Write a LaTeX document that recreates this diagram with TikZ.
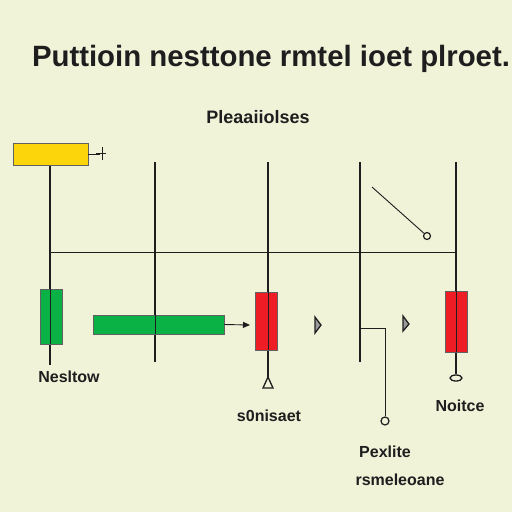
\documentclass[tikz,border=0pt]{standalone}
\usepackage{fontspec}
\setmainfont{Liberation Sans}
\usetikzlibrary{arrows.meta}
\definecolor{bg}{RGB}{240,243,216}
\definecolor{yel}{RGB}{252,214,10}
\definecolor{grn}{RGB}{10,178,70}
\definecolor{rd}{RGB}{238,28,36}
\definecolor{ink}{RGB}{30,30,30}
\begin{document}
\begin{tikzpicture}[x=1pt,y=-1pt,
  wire/.style={draw=ink,line width=1.3pt},
  thin/.style={draw=ink,line width=0.9pt},
  lbl/.style={font=\bfseries\fontsize{16}{16}\selectfont,text=ink,inner sep=0pt},
  bar/.style={draw=ink!70,line width=0.8pt}]
\fill[bg] (0,0) rectangle (512,512);
\useasboundingbox (0,0) rectangle (512,512);
% title
\node[font=\bfseries\fontsize{30}{30}\selectfont,text=ink,inner sep=0pt,anchor=base] (title) at (271,66) {\resizebox{478pt}{!}{Puttioin nesttone rmtel ioet plroet.}};
\node[lbl,font=\bfseries\fontsize{18}{18}\selectfont] (top) at (258,117) {Pleaaiiolses};
% coordinates
\coordinate (a1) at (50,165); \coordinate (a2) at (50,365);
\coordinate (b1) at (155,162); \coordinate (b2) at (155,362);
\coordinate (c1) at (268,162); \coordinate (c2) at (268,378);
\coordinate (d1) at (360,162); \coordinate (d2) at (360,362);
\coordinate (e1) at (456,162); \coordinate (e2) at (456,374);
\coordinate (h1) at (50,252); \coordinate (h2) at (456,252);
% verticals
\draw[wire] (b1) -- (b2);
\draw[wire] (c1) -- (c2);
\draw[wire] (d1) -- (d2);
\draw[wire] (e1) -- (e2);
\draw[wire] (a1) -- (a2);
\draw[thin] (h1) -- (h2);
% yellow box
\node[bar,fill=yel,minimum width=75pt,minimum height=22pt,inner sep=0pt] (ybox) at (50.5,154) {};
\coordinate (yend) at (100,154);
\draw[thin] (ybox.east) -- (yend);
\draw[thin] (102,147) -- (102,160) (96,153) -- (106,153);
% diagonal switch
\coordinate (s1) at (372,187);
\node[draw=ink,circle,line width=1.2pt,minimum size=7pt,inner sep=0pt] (sw) at (427,236) {};
\draw[thin] (s1) -- (sw);
% green boxes
\node[bar,fill=grn,minimum width=22pt,minimum height=55pt,inner sep=0pt] (g1) at (51,316.5) {};
\draw[thin] (50,289) -- (50,344);
\node[bar,fill=grn,minimum width=131pt,minimum height=19pt,inner sep=0pt] (g2) at (158.5,324.5) {};
\draw[thin] (155,315) -- (155,334);
\coordinate (g2e) at (250,325);
\draw[thin,-{Triangle[length=7pt,width=6pt]}] (g2.east) -- (g2e);
% red boxes
\node[bar,fill=rd,minimum width=22pt,minimum height=58pt,inner sep=0pt] (r1) at (266,321) {};
\draw[thin] (268,292) -- (268,350);
\node[bar,fill=rd,minimum width=22pt,minimum height=61pt,inner sep=0pt] (r2) at (456,321.5) {};
\draw[thin] (456,291) -- (456,352);
% triangle at bottom of c
\draw[wire,fill=bg] (268,377) -- (263,388) -- (273,388) -- cycle;
% ellipse at bottom of e
\draw[wire,fill=bg] (456,378) ellipse (6pt and 3pt);
% small right triangles
\draw[wire,fill=ink!45] (315,317) -- (321,325) -- (315,333) -- cycle;
\draw[wire,fill=ink!45] (403,316) -- (409,324) -- (403,331) -- cycle;
% branch from d
\coordinate (k1) at (360,328); \coordinate (k2) at (385,328);
\node[draw=ink,circle,line width=1.2pt,minimum size=8pt,inner sep=0pt] (kc) at (385,421) {};
\draw[thin] (k1) -- (k2) -- (kc.north);
% labels
\node[lbl] (l1) at (69,377) {Nesltow};
\node[lbl] (l2) at (269,416) {s0nisaet};
\node[lbl] (l3) at (460,406) {Noitce};
\node[lbl] (l4) at (385,452) {Pexlite};
\node[lbl] (l5) at (400,480) {rsmeleoane};
\end{tikzpicture}
\end{document}
